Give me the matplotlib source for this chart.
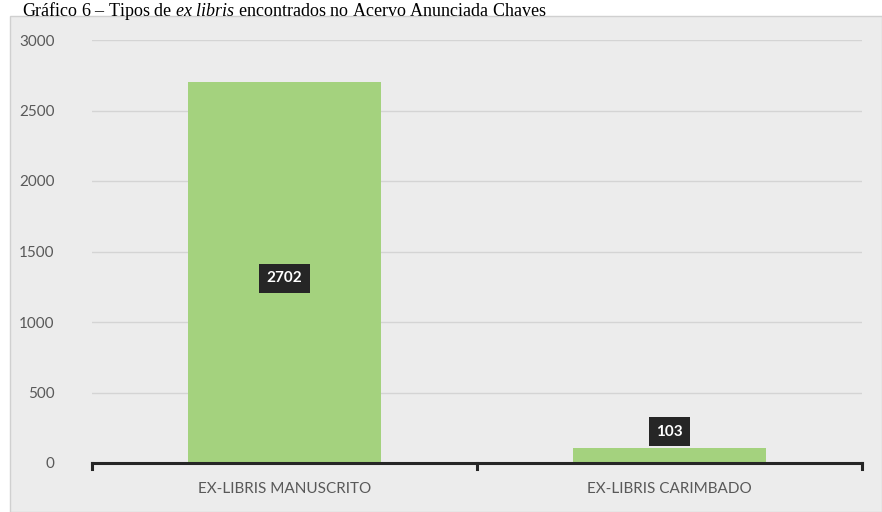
import numpy as np
import matplotlib.pyplot as plt
from matplotlib.patches import Rectangle

categorias = ["EX-LIBRIS MANUSCRITO", "EX-LIBRIS CARIMBADO"]
valores = [2702, 103]
yticks = [0, 500, 1000, 1500, 2000, 2500, 3000]

plt.rcParams['font.family'] = ['Lato', 'DejaVu Sans']
plt.rcParams['mathtext.fontset'] = 'custom'
plt.rcParams['mathtext.rm'] = 'Liberation Serif'
plt.rcParams['mathtext.it'] = 'Liberation Serif:italic'

fig = plt.figure(figsize=(8.82, 5.12), dpi=100)
fig.patch.set_facecolor('white')

# fundo cinza da area do grafico
bg = fig.add_axes([0, 0, 1, 1], zorder=-1)
bg.axis('off')
bg.add_patch(Rectangle((10/882, 0), 872/882, 496/512, transform=bg.transAxes,
                       facecolor='#ececec', edgecolor='#d0d0d0', lw=1))

fig.text(22/882, 1.0, "Gráfico 6 – Tipos de $\\it{ex\\ libris}$ encontrados no Acervo Anunciada Chaves",
         fontsize=13, family='Liberation Serif', va='top', ha='left', color='black')

ax = fig.add_axes([92/882, 49/512, 770/882, 423/512])
ax.set_facecolor('none')

x = np.arange(len(categorias))
ax.bar(x, valores, width=0.5, color='#a4d27e', zorder=2)

ax.set_xlim(-0.5, 1.5)
ax.set_ylim(0, 3000)
ax.set_yticks(yticks)
ax.set_yticklabels([str(v) for v in yticks], color='#595959', fontsize=11)
ax.yaxis.grid(True, color='#d4d4d4', lw=1, zorder=0)
ax.tick_params(axis='y', length=0, pad=27)
ax.set_xticks(x)
ax.set_xticklabels(categorias, color='#595959', fontsize=11)
ax.tick_params(axis='x', length=0, pad=14)

for s in ['top', 'right', 'left']:
    ax.spines[s].set_visible(False)
ax.spines['bottom'].set_color('#262626')
ax.spines['bottom'].set_linewidth(2.2)
ax.spines['bottom'].set_zorder(3)

# marcas do eixo x nas divisoes
for xt in [-0.5, 0.5, 1.5]:
    ax.plot([xt, xt], [0, -40], color='#262626', lw=2.2, clip_on=False, zorder=3)

box = dict(boxstyle='square,pad=0.5', facecolor='#262626', edgecolor='none')
ax.text(x[0], valores[0] / 2 - 40, str(valores[0]), ha='center', va='center', color='white',
        fontsize=11, fontweight='bold', bbox=box, zorder=4)
ax.annotate(str(valores[1]), (x[1], valores[1]), xytext=(0, 12), textcoords='offset points',
            ha='center', va='center', color='white', fontsize=11, fontweight='bold',
            bbox=box, zorder=4)

fig.savefig('out.png', dpi=100)
